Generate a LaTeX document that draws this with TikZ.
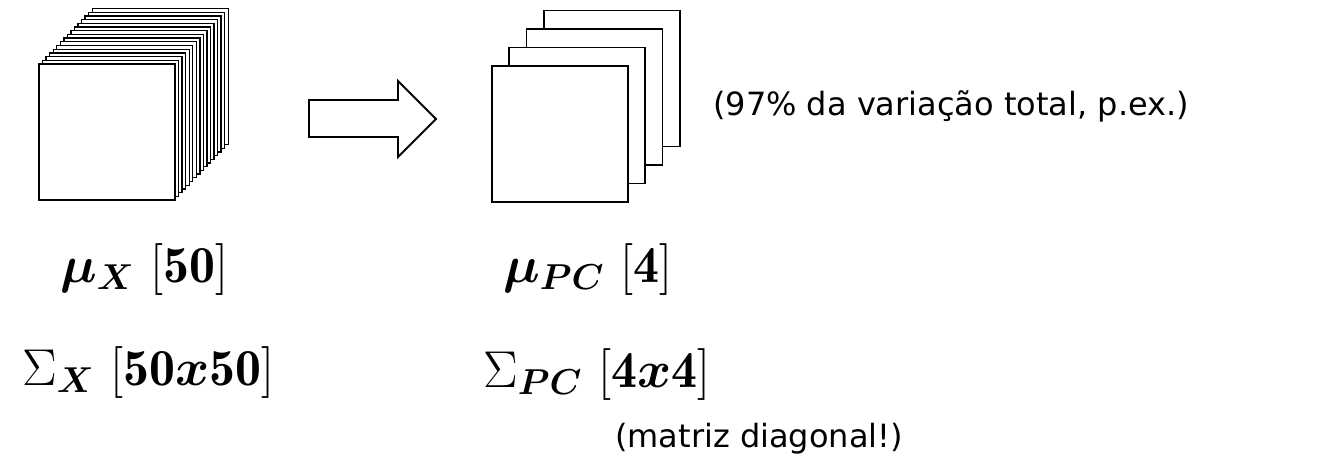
\documentclass[tikz,border=0pt]{standalone}
\usepackage{amsmath}
\usepackage{bm}
\usepackage{fontspec}
\newfontfamily\comic{DejaVu Sans}
\newcommand{\mylabelbox}[1]{\scalebox{2.5}{\fontsize{20.74}{25}\selectfont #1}}
\begin{document}
\begin{tikzpicture}[x=1pt,y=-1pt,
  sheet/.style={draw=black,fill=white,line width=1.35pt},
  bigsheet/.style={draw=black,fill=white,line width=1.8pt},
  mathlbl/.style={anchor=base west,inner sep=0pt},
  note/.style={anchor=base west,inner sep=0pt,font=\comic\fontsize{32}{38}\selectfont}]
\useasboundingbox (0,0) rectangle (1319,461);
% left stack (16 sheets)
\foreach \i in {15,14,...,0}{
  \draw[sheet] ({39+3.55*\i},{64-3.7*\i}) rectangle ({175+3.55*\i},{200-3.7*\i});
}
% block arrow
\draw[line width=1.8pt,fill=white,line join=miter]
  (309,100) -- (398,100) -- (398,81) -- (436,119) -- (398,157) -- (398,137) -- (309,137) -- cycle;
% right stack (4 sheets)
\foreach \i in {3,2,1,0}{
  \draw[bigsheet] ({492+17.2*\i},{66-18.5*\i}) rectangle ({628+17.2*\i},{202-18.5*\i});
}
\node[note] (var) at (713,115) {(97\% da variação total, p.ex.)};
\node[mathlbl] (mux) at (60,282) {\mylabelbox{$\bm{\mu}_{\bm{X}}\ [\mathbf{50}]$}};
\node[mathlbl] (sigx) at (22,385) {\mylabelbox{$\Sigma_{\bm{X}}\ [\mathbf{50}\bm{x}\mathbf{50}]$}};
\node[mathlbl] (mupc) at (503,282) {\mylabelbox{$\bm{\mu}_{\bm{PC}}\ [\mathbf{4}]$}};
\node[mathlbl] (sigpc) at (483,387) {\mylabelbox{$\Sigma_{\bm{PC}}\ [\mathbf{4}\bm{x}\mathbf{4}]$}};
\node[note] (diag) at (615,447) {(matriz diagonal!)};
\end{tikzpicture}
\end{document}
